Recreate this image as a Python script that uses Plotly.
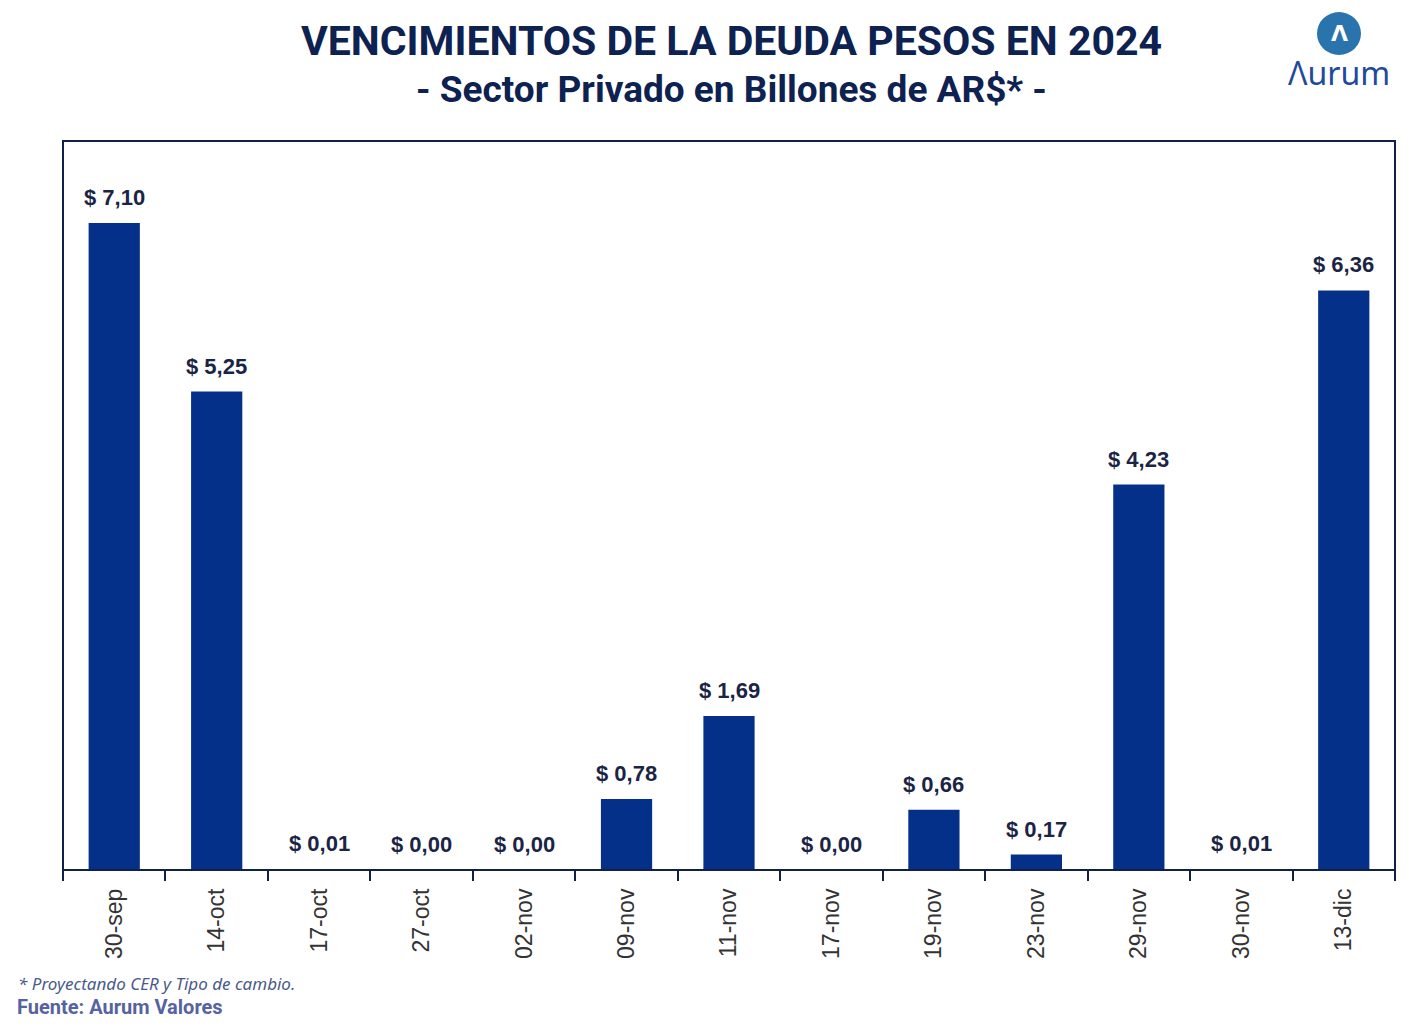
import plotly.graph_objects as go

categories = ["30-sep", "14-oct", "17-oct", "27-oct", "02-nov", "09-nov", "11-nov",
              "17-nov", "19-nov", "23-nov", "29-nov", "30-nov", "13-dic"]
values = [7.10, 5.25, 0.01, 0.00, 0.00, 0.78, 1.69, 0.00, 0.66, 0.17, 4.23, 0.01, 6.36]

title_text = "VENCIMIENTOS DE LA DEUDA PESOS EN 2024"
subtitle_text = "- Sector Privado en Billones de AR$* -"
note_text = "* Proyectando CER y Tipo de cambio."
source_text = "Fuente: Aurum Valores"

BAR = "#05308A"
NAVY = "#0F2147"

# plot area in pixels
L, R, T, B = 63, 1395, 141, 870
PW, PH = R - L, B - T


def px(x):
    return (x - L) / PW


def py(y):
    return (B - y) / PH


fig = go.Figure(go.Bar(
    x=categories, y=values,
    marker=dict(color=BAR, line=dict(width=0)),
    cliponaxis=False,
))

label_annotations = [
    dict(x=c, y=v, xref="x", yref="y", text=f"<b>$ {v:.2f}</b>".replace(".", ","),
         showarrow=False, xanchor="center", yanchor="bottom", yshift=11,
         font=dict(family="Liberation Sans", size=22, color="#1A2445"))
    for c, v in zip(categories, values)
]

fig.update_layout(
    width=1422, height=1032,
    margin=dict(l=L, r=1422 - R, t=T, b=1032 - B),
    paper_bgcolor="white", plot_bgcolor="white",
    separators=",.",
    bargap=0.5,
    showlegend=False,
    xaxis=dict(
        type="category", tickson="boundaries", ticks="outside", ticklen=10,
        tickwidth=2, tickcolor=NAVY, tickangle=-90, ticklabelstandoff=13,
        tickfont=dict(family="Liberation Sans", size=23, color="#333333"),
        showgrid=False, showline=False, zeroline=False,
    ),
    yaxis=dict(range=[0, 8], visible=False, showgrid=False, zeroline=False),
    shapes=[
        dict(type="rect", xref="paper", yref="paper", x0=0, x1=1, y0=0, y1=1,
             line=dict(color=NAVY, width=2), layer="above"),
        dict(type="circle", xref="paper", yref="paper",
             x0=px(1317), x1=px(1361), y0=py(55), y1=py(12),
             fillcolor="#2A74AE", line=dict(width=0)),
    ],
    annotations=label_annotations + [
        dict(text=f"<b>{title_text}</b>", x=px(731), y=py(41), xref="paper", yref="paper",
             xanchor="center", yanchor="middle", showarrow=False,
             font=dict(family="Roboto", size=41, color="#0D2250")),
        dict(text=f"<b>{subtitle_text}</b>", x=px(731), y=py(89), xref="paper", yref="paper",
             xanchor="center", yanchor="middle", showarrow=False,
             font=dict(family="Roboto", size=37, color="#0D2250")),
        dict(text="<b>Λ</b>", x=px(1339), y=py(34), xref="paper", yref="paper",
             xanchor="center", yanchor="middle", showarrow=False,
             font=dict(family="DejaVu Sans", size=22, color="white")),
        dict(text="Λurum", x=px(1339), y=py(72), xref="paper", yref="paper",
             xanchor="center", yanchor="middle", showarrow=False,
             font=dict(family="Noto Sans", size=32, color="#1E4A9C")),
        dict(text=f"<i>{note_text}</i>", x=px(16), y=py(983),
             xref="paper", yref="paper", xanchor="left", yanchor="middle", showarrow=False,
             font=dict(family="Noto Sans", size=17, color="#4A5A8C")),
        dict(text=f"<b>{source_text}</b>", x=px(15), y=py(1007),
             xref="paper", yref="paper", xanchor="left", yanchor="middle", showarrow=False,
             font=dict(family="Roboto", size=20, color="#5563A0")),
    ],
)

fig.write_html("out.html")
